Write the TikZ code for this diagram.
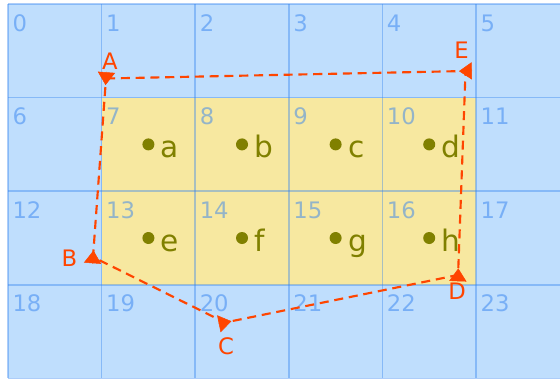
\documentclass[tikz,border=0pt]{standalone}
\usepackage{fontspec}
\setmainfont{DejaVu Sans}
\usepackage{xcolor}
\usetikzlibrary{arrows.meta, calc, positioning}

\definecolor{cellblue}{RGB}{191,222,253}
\definecolor{cellyellow}{RGB}{247,232,160}
\definecolor{gridblue}{RGB}{50,130,240}
\definecolor{routered}{RGB}{255,69,0}
\definecolor{dotolive}{RGB}{128,128,0}

\begin{document}
\begin{tikzpicture}[x=2cm, y=-2cm,
  gridline/.style={draw=gridblue, draw opacity=0.4, line width=0.9pt},
  cellnum/.style={text=gridblue, text opacity=0.5, inner sep=0pt, anchor=base west,
    font=\fontsize{13.8}{15}\selectfont},
  dot/.style={circle, fill=dotolive, inner sep=0pt, minimum size=7.3pt},
  dotlabel/.style={text=dotolive, inner sep=0pt, anchor=base west,
    font=\fontsize{18}{20}\selectfont},
  route/.style={draw=routered, line width=1.3pt, dash pattern=on 5.5pt off 3.5pt},
  marker/.style={draw=routered, fill=routered, line width=0.3pt,
    -{Triangle[width=10.5pt, length=7.8pt]}},
  vlabel/.style={text=routered, inner sep=0pt, font=\fontsize{13.8}{15}\selectfont}]
\useasboundingbox (-0.0855,-0.0427) rectangle (5.897,4.006);

% Cells
\foreach \r in {0,...,3}
  \foreach \c in {0,...,5}
    \fill[cellblue] (\c,\r) rectangle ++(1,1);
\fill[cellyellow] (1,1) rectangle (5,3);

% Grid
\foreach \c in {0,...,6}
  \draw[gridline] (\c,0) -- (\c,4);
\foreach \r in {0,...,4}
  \draw[gridline] (0,\r) -- (6,\r);

% Cell numbers
\foreach \r in {0,...,3}
  \foreach \c in {0,...,5} {
    \pgfmathtruncatemacro{\n}{6*\r+\c}
    \node[cellnum] (num\n) at (\c+0.045,\r+0.29) {\n};
  }

% Points
\foreach \lbl [count=\i from 0] in {a,b,c,d,e,f,g,h} {
  \pgfmathtruncatemacro{\col}{1+mod(\i,4)}
  \pgfmathtruncatemacro{\row}{1+int(\i/4)}
  \node[dot] (dot-\lbl) at (\col+0.5,\row+0.5) {};
  \node[dotlabel] (lbl-\lbl) at (\col+0.63,\row+0.645) {\lbl};
}

% Route
\coordinate (A) at (1.047,0.796);
\coordinate (E) at (4.888,0.716);
\coordinate (D) at (4.808,2.895);
\coordinate (C) at (2.318,3.403);
\coordinate (B) at (0.908,2.703);
\draw[route] (A) -- (E) -- (D) -- (C) -- (B) -- cycle;

% Markers
\draw[marker] ($(A)!-4pt!(B)$) -- ($(A)!4pt!(B)$);
\draw[marker] ($(E)!-4pt!(A)$) -- ($(E)!4pt!(A)$);
\draw[marker] ($(D)!-4pt!(E)$) -- ($(D)!4pt!(E)$);
\draw[marker] ($(C)!-4pt!(D)$) -- ($(C)!4pt!(D)$);
\draw[marker] ($(B)!-4pt!(A)$) -- ($(B)!4pt!(A)$);

% Labels
\node[vlabel, above=5pt of A, xshift=2.4pt] (lA) {A};
\node[vlabel, above=7.5pt of E, xshift=-2.4pt] (lE) {E};
\node[vlabel, below=4.7pt of D, xshift=-0.6pt] (lD) {D};
\node[vlabel, below=8.7pt of C, xshift=0.6pt] (lC) {C};
\node[vlabel, left=9.4pt of B, yshift=-0.9pt] (lB) {B};

\end{tikzpicture}
\end{document}
